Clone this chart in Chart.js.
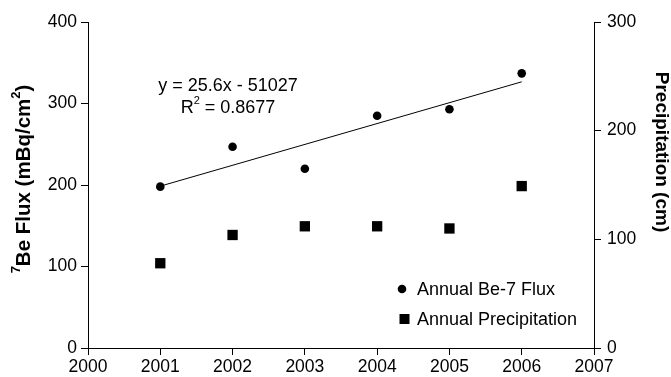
<!DOCTYPE html>
<html>
<head>
<meta charset="utf-8">
<script src="https://cdn.jsdelivr.net/npm/chart.js@4/dist/chart.umd.min.js"></script>
<style>
  html, body { margin: 0; padding: 0; background: #fff; }
  #wrap { width: 671px; height: 377px; }
</style>
</head>
<body>
<div id="wrap"><canvas id="c"></canvas></div>
<script>
// Annual Be-7 deposition flux and precipitation, 2001-2006
const years = [2001, 2002, 2003, 2004, 2005, 2006];
const be7Flux = [198, 247, 220, 285, 293, 337];          // mBq/cm2
const precipitation = [78, 104, 112, 112, 110, 149];     // cm

// Linear fit of flux vs. year
const fitSlope = 25.6;
const fitIntercept = -51027;
const fitR2 = 0.8677;

const yearTicks = [2000, 2001, 2002, 2003, 2004, 2005, 2006, 2007];
const fluxTicks = [0, 100, 200, 300, 400];
const precipTicks = [0, 100, 200, 300];

const FONT = "'Liberation Sans', Arial, Helvetica, sans-serif";
const INK = '#000';
Chart.defaults.font.family = FONT;
Chart.defaults.color = INK;

const fitLine = [years[0], years[years.length - 1]].map(x => ({ x, y: fitSlope * x + fitIntercept }));

function setTicks(list) {
  return scale => { scale.ticks = list.map(v => ({ value: v })); };
}

// Draw a run of text pieces, some of them superscript, centred on (cx, cy)
function drawRich(ctx, parts, cx, cy, angle, size, weight) {
  ctx.save();
  ctx.translate(cx, cy);
  ctx.rotate(angle);
  ctx.textBaseline = 'middle';
  ctx.textAlign = 'left';
  const supSize = Math.round(size * 0.62);
  let total = 0;
  const widths = parts.map(p => {
    ctx.font = `${weight} ${p.sup ? supSize : size}px ${FONT}`;
    const w = ctx.measureText(p.t).width;
    total += w;
    return w;
  });
  let x = -total / 2;
  parts.forEach((p, i) => {
    ctx.font = `${weight} ${p.sup ? supSize : size}px ${FONT}`;
    ctx.fillStyle = INK;
    ctx.fillText(p.t, x, p.sup ? -size * 0.38 : 0);
    x += widths[i];
  });
  ctx.restore();
}

const annotations = {
  id: 'annotations',
  afterDraw(chart) {
    const ctx = chart.ctx;
    // axis titles
    drawRich(ctx, [{ t: '7', sup: true }, { t: 'Be Flux (mBq/cm' }, { t: '2', sup: true }, { t: ')' }],
      24, 179, -Math.PI / 2, 20.5, 'bold');
    drawRich(ctx, [{ t: 'Precipitation (cm)' }], 661, 152, Math.PI / 2, 19, 'bold');

    // regression equation
    const eq = `y = ${fitSlope}x - ${Math.abs(fitIntercept)}`;
    drawRich(ctx, [{ t: eq }], 228, 86, 0, 18, 'normal');
    drawRich(ctx, [{ t: 'R' }, { t: '2', sup: true }, { t: ' = ' + fitR2 }], 228, 108, 0, 18, 'normal');

    // legend
    const flux = chart.data.datasets[0];
    const rain = chart.data.datasets[1];
    ctx.save();
    ctx.fillStyle = INK;
    ctx.beginPath();
    ctx.arc(402, 289, 4.3, 0, Math.PI * 2);
    ctx.fill();
    ctx.fillRect(399.5, 314, 10, 10);
    ctx.font = `18px ${FONT}`;
    ctx.textBaseline = 'middle';
    ctx.textAlign = 'left';
    ctx.fillText(flux.label, 417, 290);
    ctx.fillText(rain.label, 417, 320);
    ctx.restore();
  }
};

new Chart(document.getElementById('c'), {
  type: 'scatter',
  data: {
    datasets: [
      {
        label: 'Annual Be-7 Flux',
        data: years.map((x, i) => ({ x, y: be7Flux[i] })),
        yAxisID: 'y',
        pointStyle: 'circle',
        pointRadius: 4.3,
        backgroundColor: INK,
        borderColor: INK,
        borderWidth: 0,
        order: 1
      },
      {
        label: 'Annual Precipitation',
        data: years.map((x, i) => ({ x, y: precipitation[i] })),
        yAxisID: 'y1',
        pointStyle: 'rect',
        pointRadius: 7.3,
        backgroundColor: INK,
        borderColor: INK,
        borderWidth: 0,
        order: 2
      },
      {
        label: 'Linear fit',
        type: 'line',
        data: fitLine,
        yAxisID: 'y',
        borderColor: INK,
        borderWidth: 1,
        pointRadius: 0,
        fill: false,
        order: 3
      }
    ]
  },
  options: {
    responsive: true,
    maintainAspectRatio: false,
    animation: false,
    devicePixelRatio: 1,
    layout: { padding: { top: 22, left: 0, right: 0, bottom: 0 } },
    plugins: { legend: { display: false }, tooltip: { enabled: false } },
    scales: {
      x: {
        type: 'linear',
        min: 2000, max: 2007,
        afterBuildTicks: setTicks(yearTicks),
        afterFit: s => { s.height = 29; },
        grid: { drawOnChartArea: false, drawTicks: true, tickLength: 7, color: INK },
        border: { color: INK, width: 1 },
        ticks: { font: { size: 17.5 }, color: INK, padding: 2, maxRotation: 0, callback: v => String(v) }
      },
      y: {
        position: 'left',
        min: 0, max: 400,
        afterBuildTicks: setTicks(fluxTicks),
        afterFit: s => { s.width = 88; },
        grid: { drawOnChartArea: false, drawTicks: true, tickLength: 7, color: INK },
        border: { color: INK, width: 1 },
        ticks: { font: { size: 17.5 }, color: INK, padding: 4 }
      },
      y1: {
        position: 'right',
        min: 0, max: 300,
        afterBuildTicks: setTicks(precipTicks),
        afterFit: s => { s.width = 77; },
        grid: { drawOnChartArea: false, drawTicks: true, tickLength: 7, color: INK },
        border: { color: INK, width: 1 },
        ticks: { font: { size: 17.5 }, color: INK, padding: 6 }
      }
    }
  },
  plugins: [annotations]
});
</script>
</body>
</html>
